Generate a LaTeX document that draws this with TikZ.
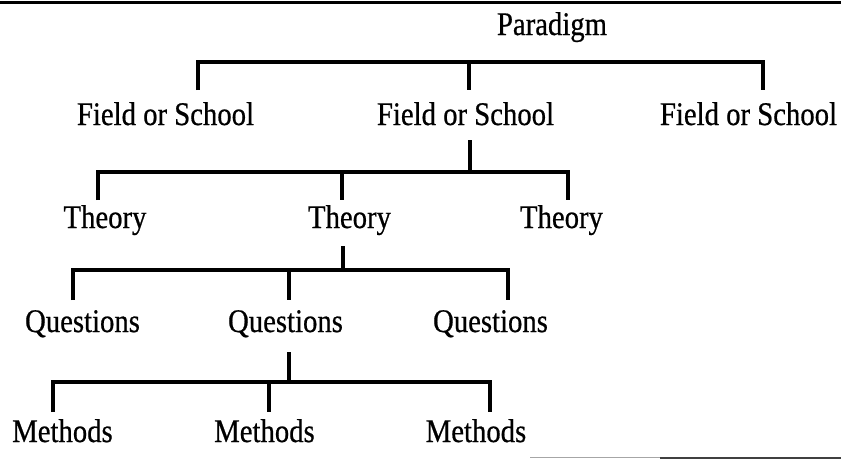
\documentclass[tikz,border=0pt]{standalone}
\usepackage{fontspec}
\setmainfont{Liberation Serif}[FakeStretch=0.87,FakeBold=0.6]
\begin{document}
\begin{tikzpicture}[x=1pt,y=-1pt,
  lbl/.style={inner sep=0pt, anchor=base, font=\fontsize{33}{38}\selectfont},
  conn/.style={line width=3.2pt, line join=miter},
  rule/.style={line width=3.5pt}]
\useasboundingbox (0,0) rectangle (841,459);
% rules
\coordinate (tl) at (0,2.5); \coordinate (tr) at (841,2.5);
\draw[rule] (tl) -- (tr);
\coordinate (bl) at (530,457.5); \coordinate (bm) at (660,457.5); \coordinate (br) at (841,457.5);
\draw[line width=1.8pt, black!35] (bl) -- (bm);
\draw[line width=2pt, black!75] (bm) -- (br);
% labels
\node[lbl] (par) at (552,35) {Paradigm};
\node[lbl] (f1) at (165.5,125) {Field or School};
\node[lbl] (f2) at (465.5,125) {Field or School};
\node[lbl] (f3) at (748.5,125) {Field or School};
\node[lbl] (t1) at (105,228) {Theory};
\node[lbl] (t2) at (349.5,228) {Theory};
\node[lbl] (t3) at (561.5,228) {Theory};
\node[lbl] (q1) at (82.5,332) {Questions};
\node[lbl] (q2) at (285.5,332) {Questions};
\node[lbl] (q3) at (490.5,332) {Questions};
\node[lbl] (m1) at (62.5,442) {Methods};
\node[lbl] (m2) at (264.5,442) {Methods};
\node[lbl] (m3) at (476,442) {Methods};
% bar 1 (Paradigm -> Field or School)
\coordinate (a1) at (198,90); \coordinate (a1t) at (198,62);
\coordinate (a3) at (763,90); \coordinate (a3t) at (763,62);
\coordinate (a2) at (469,90); \coordinate (a2t) at (469,62);
\draw[conn] (a1) -- (a1t) -- (a3t) -- (a3);
\draw[conn] (a2t) -- (a2);
% bar 2 (Field or School -> Theory)
\coordinate (s2) at (470,140); \coordinate (s2b) at (470,172);
\coordinate (b1) at (98,200); \coordinate (b1t) at (98,172);
\coordinate (b2) at (342,200); \coordinate (b2t) at (342,172);
\coordinate (b3) at (568,200); \coordinate (b3t) at (568,172);
\draw[conn] (s2) -- (s2b);
\draw[conn] (b1) -- (b1t) -- (b3t) -- (b3);
\draw[conn] (b2t) -- (b2);
% bar 3 (Theory -> Questions)
\coordinate (s3) at (343,246); \coordinate (s3b) at (343,270);
\coordinate (c1) at (73,300); \coordinate (c1t) at (73,270);
\coordinate (c2) at (289,300); \coordinate (c2t) at (289,270);
\coordinate (c3) at (508,300); \coordinate (c3t) at (508,270);
\draw[conn] (s3) -- (s3b);
\draw[conn] (c1) -- (c1t) -- (c3t) -- (c3);
\draw[conn] (c2t) -- (c2);
% bar 4 (Questions -> Methods)
\coordinate (s4) at (289,352); \coordinate (s4b) at (289,382);
\coordinate (d1) at (53,412); \coordinate (d1t) at (53,382);
\coordinate (d2) at (269,412); \coordinate (d2t) at (269,382);
\coordinate (d3) at (490,412); \coordinate (d3t) at (490,382);
\draw[conn] (s4) -- (s4b);
\draw[conn] (d1) -- (d1t) -- (d3t) -- (d3);
\draw[conn] (d2t) -- (d2);
\end{tikzpicture}
\end{document}
